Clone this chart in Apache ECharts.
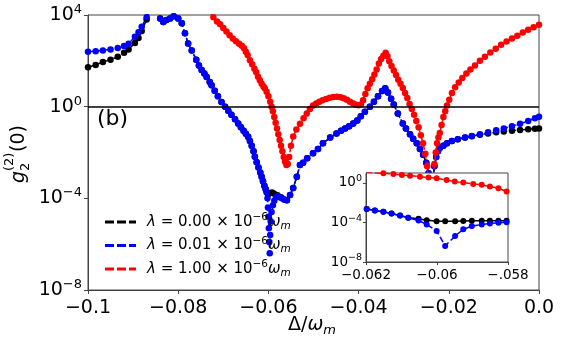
<!DOCTYPE html>
<html>
<head>
<meta charset="utf-8">
<script src="https://cdn.jsdelivr.net/npm/echarts@6/dist/echarts.min.js"></script>
<style>
  html, body { margin: 0; padding: 0; background: #fff; }
  #chart { width: 562px; height: 344px; }
</style>
</head>
<body>
<div id="chart"></div>
<script>
// lambda values for the legend (x 10^-6 w_m)
const lambdaLabels = ['0.00', '0.01', '1.00'];
const colors = ['#000000', '#0000ff', '#ff0000'];

// main panel: detuning and log10 of g2(0)
const blackX = [-0.1, -0.0983, -0.0967, -0.095, -0.0934, -0.092, -0.091, -0.0896, -0.0888, -0.0881, -0.087, -0.0862, -0.085, -0.084, -0.0833, -0.0826, -0.0818, -0.081, -0.08, -0.0792, -0.0785, -0.0778, -0.077, -0.076, -0.0754, -0.0748, -0.0742, -0.0737, -0.073, -0.0726, -0.0719, -0.0712, -0.0704, -0.0696, -0.0689, -0.0682, -0.0674, -0.0667, -0.0661, -0.0655, -0.065, -0.0645, -0.0641, -0.0637, -0.0633, -0.063, -0.0626, -0.0622, -0.0618, -0.0615, -0.0612, -0.0609, -0.0606, -0.0604, -0.0601, -0.0597, -0.0592, -0.0588, -0.058, -0.0572, -0.0565, -0.0559, -0.0552, -0.0545, -0.0537, -0.053, -0.0523, -0.0514, -0.0501, -0.049, -0.0479, -0.0463, -0.0449, -0.0439, -0.043, -0.0421, -0.0412, -0.0403, -0.0395, -0.0386, -0.0375, -0.0366, -0.0357, -0.0348, -0.0341, -0.0335, -0.0328, -0.0322, -0.0313, -0.0302, -0.0295, -0.0286, -0.0279, -0.0271, -0.0264, -0.0257, -0.025, -0.0245, -0.0242, -0.0239, -0.0235, -0.0232, -0.0228, -0.0224, -0.022, -0.0212, -0.0204, -0.0193, -0.018, -0.0164, -0.0149, -0.0131, -0.0113, -0.0095, -0.0078, -0.006, -0.0042, -0.0024, -0.0009, 0];
const blackExp = [1.72, 1.82, 1.95, 2.05, 2.18, 2.35, 2.5, 2.78, 3.0, 3.3, 3.8, 4.3, 4.6, 3.85, 3.7, 3.78, 3.85, 3.95, 3.85, 3.64, 3.2, 2.76, 2.45, 2.05, 1.8, 1.6, 1.45, 1.3, 1.08, 0.94, 0.7, 0.45, 0.2, 0.0, -0.18, -0.35, -0.55, -0.73, -0.9, -1.05, -1.18, -1.31, -1.5, -1.7, -1.95, -2.19, -2.42, -2.65, -2.87, -3.06, -3.25, -3.45, -3.6, -3.72, -3.82, -3.78, -3.74, -3.79, -3.87, -3.95, -4.05, -4.08, -3.85, -3.55, -3.06, -2.55, -2.45, -2.25, -2.03, -1.85, -1.6, -1.35, -1.17, -1.05, -0.95, -0.85, -0.73, -0.6, -0.42, -0.22, 0.0, 0.22, 0.45, 0.68, 0.8, 0.62, 0.35, 0.1, -0.3, -0.73, -0.95, -1.2, -1.4, -1.6, -1.85, -2.1, -2.45, -2.9, -3.6, -4.5, -3.2, -2.6, -2.2, -1.95, -1.8, -1.7, -1.6, -1.5, -1.42, -1.35, -1.29, -1.22, -1.17, -1.12, -1.08, -1.05, -1.02, -0.99, -0.96, -0.95];

const blueX = [-0.1, -0.0983, -0.0967, -0.095, -0.0934, -0.092, -0.091, -0.0896, -0.0888, -0.0881, -0.087, -0.0862, -0.085, -0.084, -0.0833, -0.0826, -0.0818, -0.081, -0.08, -0.0792, -0.0785, -0.0778, -0.077, -0.076, -0.0754, -0.0748, -0.0742, -0.0737, -0.073, -0.0726, -0.0719, -0.0712, -0.0704, -0.0696, -0.0689, -0.0682, -0.0674, -0.0667, -0.0661, -0.0655, -0.065, -0.0645, -0.0641, -0.0637, -0.0633, -0.063, -0.0626, -0.0622, -0.0618, -0.0615, -0.0612, -0.0609, -0.0606, -0.0604, -0.0602, -0.0601, -0.06, -0.0599, -0.0598, -0.0597, -0.0596, -0.0595, -0.0593, -0.059, -0.0587, -0.0583, -0.0579, -0.0575, -0.057, -0.0565, -0.0559, -0.0552, -0.0545, -0.0537, -0.053, -0.0523, -0.0514, -0.0501, -0.049, -0.0479, -0.0463, -0.0449, -0.0439, -0.043, -0.0421, -0.0412, -0.0403, -0.0395, -0.0386, -0.0375, -0.0366, -0.0357, -0.0348, -0.0341, -0.0335, -0.0328, -0.0322, -0.0313, -0.0302, -0.0295, -0.0286, -0.0279, -0.0271, -0.0264, -0.0257, -0.025, -0.0245, -0.0242, -0.0239, -0.0235, -0.0232, -0.0228, -0.0224, -0.022, -0.0212, -0.0204, -0.0193, -0.018, -0.0164, -0.0149, -0.0131, -0.0113, -0.0095, -0.0078, -0.006, -0.0042, -0.0024, -0.0009, 0];
const blueExp = [2.4, 2.42, 2.45, 2.5, 2.56, 2.65, 2.75, 3.05, 3.25, 3.49, 3.9, 4.3, 4.6, 3.85, 3.7, 3.78, 3.85, 3.95, 3.85, 3.64, 3.2, 2.76, 2.45, 2.05, 1.8, 1.6, 1.45, 1.3, 1.08, 0.94, 0.7, 0.45, 0.2, 0.0, -0.18, -0.35, -0.55, -0.73, -0.9, -1.05, -1.18, -1.31, -1.5, -1.7, -1.95, -2.19, -2.42, -2.65, -2.87, -3.06, -3.25, -3.45, -3.6, -3.72, -4.0, -4.4, -4.8, -5.3, -5.9, -6.4, -5.6, -5.0, -4.6, -4.3, -4.1, -3.95, -3.9, -3.95, -4.0, -4.05, -4.08, -3.85, -3.55, -3.06, -2.55, -2.45, -2.25, -2.03, -1.85, -1.6, -1.35, -1.17, -1.05, -0.95, -0.85, -0.73, -0.6, -0.42, -0.22, 0.0, 0.22, 0.45, 0.68, 0.8, 0.62, 0.35, 0.1, -0.3, -0.73, -0.95, -1.2, -1.4, -1.6, -1.85, -2.1, -2.45, -2.9, -3.6, -4.5, -3.2, -2.6, -2.2, -1.95, -1.8, -1.7, -1.6, -1.5, -1.42, -1.35, -1.28, -1.2, -1.12, -1.03, -0.95, -0.85, -0.75, -0.62, -0.5, -0.44];

const redX = [-0.073, -0.0722, -0.0714, -0.0707, -0.07, -0.0693, -0.0686, -0.0679, -0.0672, -0.0665, -0.0659, -0.0654, -0.065, -0.0646, -0.0641, -0.0636, -0.0631, -0.0627, -0.0623, -0.0619, -0.0615, -0.0611, -0.0608, -0.0604, -0.06, -0.0596, -0.0593, -0.059, -0.0587, -0.0584, -0.0581, -0.0578, -0.0575, -0.0572, -0.0569, -0.0566, -0.0563, -0.056, -0.0557, -0.0554, -0.055, -0.0545, -0.0538, -0.053, -0.0522, -0.0515, -0.0508, -0.0501, -0.0494, -0.0487, -0.048, -0.0472, -0.0464, -0.0456, -0.0448, -0.044, -0.0433, -0.0426, -0.0419, -0.0412, -0.0405, -0.04, -0.0395, -0.039, -0.0385, -0.038, -0.0375, -0.037, -0.0365, -0.036, -0.0355, -0.035, -0.0345, -0.034, -0.0336, -0.0332, -0.0327, -0.0322, -0.0317, -0.0312, -0.0307, -0.0302, -0.0297, -0.0292, -0.0287, -0.0282, -0.0277, -0.0272, -0.0267, -0.0262, -0.0257, -0.0252, -0.0248, -0.0245, -0.0242, -0.024, -0.0238, -0.0235, -0.0232, -0.0229, -0.0226, -0.0223, -0.022, -0.0216, -0.0212, -0.0208, -0.0204, -0.0199, -0.0193, -0.0186, -0.0178, -0.017, -0.0161, -0.0152, -0.0142, -0.0131, -0.012, -0.0108, -0.0096, -0.0084, -0.0072, -0.006, -0.0048, -0.0036, -0.0024, -0.0012, 0];
const redExp = [4.15, 3.9, 3.72, 3.6, 3.43, 3.28, 3.12, 2.98, 2.85, 2.75, 2.66, 2.55, 2.4, 2.25, 2.03, 1.85, 1.65, 1.5, 1.31, 1.15, 1.0, 0.88, 0.8, 0.65, 0.45, 0.22, 0.0, -0.2, -0.45, -0.7, -0.95, -1.2, -1.45, -1.7, -1.95, -2.2, -2.4, -2.55, -2.5, -2.2, -1.7, -1.3, -1.0, -0.75, -0.5, -0.3, -0.1, 0.05, 0.14, 0.21, 0.28, 0.34, 0.39, 0.42, 0.43, 0.41, 0.37, 0.3, 0.22, 0.14, 0.08, 0.06, 0.1, 0.28, 0.55, 0.8, 1.0, 1.2, 1.4, 1.62, 1.88, 2.08, 2.22, 2.35, 2.2, 1.98, 1.78, 1.58, 1.38, 1.18, 1.0, 0.82, 0.6, 0.38, 0.12, -0.1, -0.35, -0.62, -0.9, -1.25, -1.6, -2.05, -2.6, -3.2, -4.2, -5.5, -4.2, -3.1, -2.5, -2.0, -1.6, -1.35, -1.15, -0.8, -0.45, -0.2, 0.05, 0.3, 0.6, 0.85, 1.05, 1.25, 1.45, 1.62, 1.8, 2.0, 2.18, 2.36, 2.53, 2.7, 2.84, 2.97, 3.1, 3.24, 3.36, 3.47, 3.58];

// inset panel
const insBlackX = [-0.06198, -0.06175, -0.06151, -0.06128, -0.06104, -0.06081, -0.06052, -0.06029, -0.06001, -0.05977, -0.05949, -0.05926, -0.05902, -0.05874, -0.05851, -0.05827, -0.05804];
const insBlackExp = [-2.63, -2.8, -2.93, -3.1, -3.3, -3.53, -3.63, -3.77, -3.87, -3.87, -3.87, -3.85, -3.82, -3.82, -3.82, -3.82, -3.82];
const insBlueX = [-0.06198, -0.06175, -0.06151, -0.06128, -0.06104, -0.06081, -0.06052, -0.06029, -0.06001, -0.05977, -0.05949, -0.05926, -0.05902, -0.05874, -0.05851, -0.05827, -0.05804];
const insBlueExp = [-2.63, -2.8, -2.93, -3.1, -3.3, -3.53, -3.8, -4.2, -4.87, -6.37, -5.37, -4.7, -4.37, -4.2, -4.1, -4.03, -3.97];
const insRedX = [-0.062, -0.06179, -0.06151, -0.06123, -0.06099, -0.06076, -0.06048, -0.06024, -0.06001, -0.05973, -0.0595, -0.05926, -0.05898, -0.05874, -0.05851, -0.05827, -0.05804];
const insRedExp = [1.1, 1.03, 0.97, 0.9, 0.8, 0.73, 0.63, 0.55, 0.47, 0.3, 0.13, 0.03, -0.1, -0.2, -0.37, -0.53, -0.87];

const xTickLabels = ['\u22120.1', '\u22120.08', '\u22120.06', '\u22120.04', '\u22120.02', '0.0'];
const insXTickLabels = ['\u22120.062', '\u22120.06', '\u2212.058'];

const FONT = 'DejaVu Sans';

function pairs(xs, es) {
  return xs.map((x, i) => [x, Math.pow(10, es[i])]);
}
function expLabel(v) {
  const e = Math.round(Math.log10(v));
  return '{b|10}{s|' + String(e).replace('-', '\u2212') + '}';
}

const chart = echarts.init(document.getElementById('chart'), null, { renderer: 'canvas' });

const mainData = [pairs(blackX, blackExp), pairs(blueX, blueExp), pairs(redX, redExp)];
const insData = [pairs(insBlackX, insBlackExp), pairs(insBlueX, insBlueExp), pairs(insRedX, insRedExp)];

const series = [];
mainData.forEach((d, i) => {
  series.push({
    name: lambdaLabels[i],
    type: 'line',
    xAxisIndex: 0, yAxisIndex: 0,
    data: d,
    symbol: 'circle',
    symbolSize: 6.5,
    z: 2 + i * 0.1,
    itemStyle: { color: colors[i] },
    lineStyle: { color: colors[i], width: 1.5, type: 'dashed' },
    clip: true,
    markLine: i === 2 ? {
      silent: true,
      symbol: 'none',
      label: { show: false },
      lineStyle: { color: '#000', width: 1.5, type: 'solid' },
      data: [{ yAxis: 1 }]
    } : undefined
  });
});
insData.forEach((d, i) => {
  series.push({
    name: lambdaLabels[i],
    type: 'line',
    xAxisIndex: 1, yAxisIndex: 1,
    data: d,
    symbol: 'circle',
    symbolSize: 6,
    z: 12 + i * 0.1,
    itemStyle: { color: colors[i] },
    lineStyle: { color: colors[i], width: 1.5, type: 'dashed' },
    clip: true
  });
});

const option = {
  animation: false,
  backgroundColor: '#fff',
  textStyle: { fontFamily: FONT },
  grid: [
    { left: 88, top: 15, width: 451, height: 275, show: true, borderColor: '#444', borderWidth: 1, backgroundColor: 'transparent' },
    { left: 366, top: 173, width: 142, height: 89, show: true, borderColor: '#444', borderWidth: 1, backgroundColor: '#fff', z: 10 }
  ],
  xAxis: [
    {
      type: 'value', gridIndex: 0, min: -0.1, max: 0, interval: 0.02,
      axisLine: { show: true, onZero: false, lineStyle: { color: '#444' } },
      axisTick: { show: true, inside: false, length: 4, lineStyle: { color: '#444' } },
      splitLine: { show: false },
      axisLabel: {
        color: '#000', fontSize: 19, fontFamily: FONT, margin: 9,
        formatter: (v, idx) => xTickLabels[idx]
      }
    },
    {
      type: 'value', gridIndex: 1, min: -0.062, max: -0.058, interval: 0.002, z: 11,
      axisLine: { show: true, onZero: false, lineStyle: { color: '#444' } },
      axisTick: { show: true, inside: false, length: 3, lineStyle: { color: '#444' } },
      splitLine: { show: false },
      axisLabel: {
        color: '#000', fontSize: 13.5, fontFamily: FONT, margin: 6,
        formatter: (v, idx) => insXTickLabels[idx]
      }
    }
  ],
  yAxis: [
    {
      type: 'log', logBase: 10, gridIndex: 0, min: 1e-8, max: 1e4, interval: 4,
      axisLine: { show: true, onZero: false, lineStyle: { color: '#444' } },
      axisTick: { show: true, inside: false, length: 4, lineStyle: { color: '#444' } },
      minorTick: { show: false },
      splitLine: { show: false },
      axisLabel: {
        color: '#000', margin: 6, formatter: expLabel,
        rich: {
          b: { fontSize: 19, fontFamily: FONT, color: '#000' },
          s: { fontSize: 13, fontFamily: FONT, color: '#000', padding: [0, 0, 11, 0] }
        }
      }
    },
    {
      type: 'log', logBase: 10, gridIndex: 1, min: 1e-8, max: 10, interval: 4, z: 11,
      axisLine: { show: true, onZero: false, lineStyle: { color: '#444' } },
      axisTick: { show: true, inside: false, length: 3, lineStyle: { color: '#444' } },
      splitLine: { show: false },
      axisLabel: {
        color: '#000', margin: 4, showMaxLabel: false, formatter: expLabel,
        rich: {
          b: { fontSize: 13.5, fontFamily: FONT, color: '#000' },
          s: { fontSize: 9.5, fontFamily: FONT, color: '#000', padding: [0, 0, 8, 0] }
        }
      }
    }
  ],
  legend: {
    orient: 'vertical',
    left: 100,
    top: 207,
    itemWidth: 31,
    itemHeight: 3,
    itemGap: 4,
    icon: 'path://M0,0H9V3H0Z M12,0H21V3H12Z M24,0H31V3H24Z',
    data: lambdaLabels,
    formatter: name => '{i|\u03bb}{n| = ' + name + ' \u00d7 10}{sup|\u22126}{i|\u03c9}{sub|m}',
    textStyle: {
      padding: [0, 0, 0, 6],
      rich: {
        i: { fontSize: 15, fontStyle: 'italic', fontFamily: FONT, color: '#000' },
        n: { fontSize: 15, fontFamily: FONT, color: '#000' },
        sup: { fontSize: 10.5, fontFamily: FONT, color: '#000', padding: [0, 0, 9, 0] },
        sub: { fontSize: 10.5, fontStyle: 'italic', fontFamily: FONT, color: '#000', padding: [8, 0, 0, 0] }
      }
    }
  },
  graphic: [
    {
      type: 'text', left: 97, top: 108, z: 20,
      style: { text: '(b)', font: '22px "DejaVu Sans"', fill: '#000' }
    },
    {
      type: 'text', left: 288, top: 316, z: 20,
      style: {
        text: '{n|\u0394/}{i|\u03c9}{sub|m}',
        rich: {
          n: { fontSize: 19, fontFamily: FONT, fill: '#000' },
          i: { fontSize: 19, fontStyle: 'italic', fontFamily: FONT, fill: '#000' },
          sub: { fontSize: 13, fontStyle: 'italic', fontFamily: FONT, fill: '#000', padding: [10, 0, 0, 0] }
        }
      }
    },
    {
      type: 'group', x: 19, y: 152, rotation: Math.PI / 2, z: 20,
      children: [
        { type: 'text', x: -31, y: 0, style: { text: 'g', font: 'italic 19px "DejaVu Sans"', fill: '#000', verticalAlign: 'middle', align: 'left' } },
        { type: 'text', x: -19, y: -9, style: { text: '(2)', font: '13px "DejaVu Sans"', fill: '#000', verticalAlign: 'middle', align: 'left' } },
        { type: 'text', x: -19, y: 7, style: { text: '2', font: '13px "DejaVu Sans"', fill: '#000', verticalAlign: 'middle', align: 'left' } },
        { type: 'text', x: 0, y: 0, style: { text: '(0)', font: '19px "DejaVu Sans"', fill: '#000', verticalAlign: 'middle', align: 'left' } }
      ]
    }
  ],
  series: series
};

chart.setOption(option);
</script>
</body>
</html>
